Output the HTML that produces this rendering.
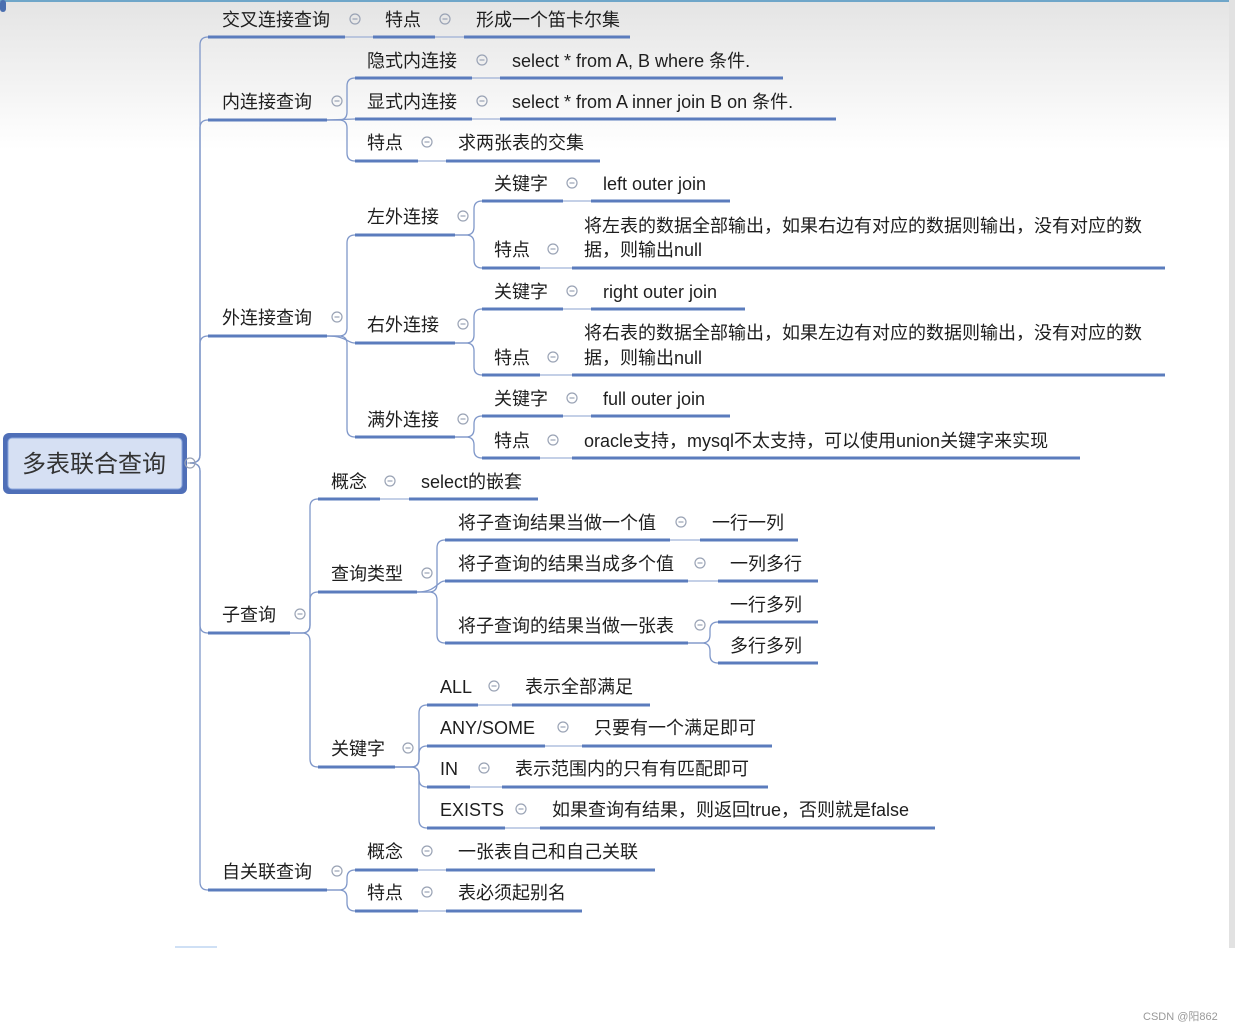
<!DOCTYPE html>
<html><head><meta charset="utf-8"><style>
html,body{margin:0;padding:0;width:1235px;height:1031px;overflow:hidden;background:#fff}
.bg{position:absolute;left:0;top:0;width:1235px;height:150px;background:linear-gradient(#e4e4e4,#fff)}
svg{position:absolute;left:0;top:0}
text{font-family:"Liberation Sans","Noto Sans CJK SC",sans-serif;font-size:18px;fill:#1e1e1e}
.u{fill:#5b7cbd}
.c{fill:none;stroke:#7f97c9;stroke-width:1.3}
.t{stroke:#8aa0cf;stroke-width:1}
</style></head><body>
<div class="bg"></div>
<svg width="1235" height="1031" viewBox="0 0 1235 1031">
<defs><g id="m"><circle r="5" fill="none" stroke="#9aa3b5" stroke-width="1.2"/><line x1="-2.5" x2="2.5" stroke="#9aa3b5" stroke-width="1.2"/></g></defs>
<rect x="0" y="0" width="1235" height="2" fill="#6fa6c9"/>
<rect x="0" y="0" width="6" height="12" rx="3" fill="#4a6fb0"/>
<rect x="1229" y="0" width="6" height="948" fill="#e2e2e2"/>
<rect x="175" y="946" width="42" height="2" fill="#cfe0f5"/>
<g class="c">
<path d="M190 463 Q200 463 200 455 L200 45 Q200 37 208 37"/>
<path d="M190 463 Q200 463 200 455 L200 128 Q200 120 208 120"/>
<path d="M190 463 Q200 463 200 455 L200 344 Q200 336 208 336"/>
<path d="M190 463 Q200 463 200 471 L200 625 Q200 633 208 633"/>
<path d="M190 463 Q200 463 200 471 L200 882 Q200 890 208 890"/>
<path d="M327 120 L339 120 Q347 120 347 112 L347 86 Q347 78 355 78"/>
<path d="M327 120 L355 119"/>
<path d="M327 120 L339 120 Q347 120 347 128 L347 153 Q347 161 355 161"/>
<path d="M327 336 L339 336 Q347 336 347 328 L347 243 Q347 235 355 235"/>
<path d="M327 336 C347 336 347 343 355 343"/>
<path d="M327 336 L339 336 Q347 336 347 344 L347 429 Q347 437 355 437"/>
<path d="M455 235 L466 235 Q474 235 474 227 L474 209 Q474 201 482 201"/>
<path d="M455 235 L466 235 Q474 235 474 243 L474 260 Q474 268 482 268"/>
<path d="M455 343 L466 343 Q474 343 474 335 L474 317 Q474 309 482 309"/>
<path d="M455 343 L466 343 Q474 343 474 351 L474 367 Q474 375 482 375"/>
<path d="M455 437 L466 437 Q474 437 474 429 L474 424 Q474 416 482 416"/>
<path d="M455 437 L466 437 Q474 437 474 445 L474 450 Q474 458 482 458"/>
<path d="M290 633 L302 633 Q310 633 310 625 L310 507 Q310 499 318 499"/>
<path d="M290 633 L302 633 Q310 633 310 625 L310 600 Q310 592 318 592"/>
<path d="M290 633 L302 633 Q310 633 310 641 L310 759 Q310 767 318 767"/>
<path d="M417 592 L429 592 Q437 592 437 584 L437 548 Q437 540 445 540"/>
<path d="M417 592 C437 592 437 581 445 581"/>
<path d="M417 592 L429 592 Q437 592 437 600 L437 635 Q437 643 445 643"/>
<path d="M688 643 L702 643 Q710 643 710 635 L710 630 Q710 622 718 622"/>
<path d="M688 643 L702 643 Q710 643 710 651 L710 655 Q710 663 718 663"/>
<path d="M395 767 L411 767 Q419 767 419 759 L419 713 Q419 705 427 705"/>
<path d="M395 767 L411 767 Q419 767 419 759 L419 754 Q419 746 427 746"/>
<path d="M395 767 L411 767 Q419 767 419 775 L419 779 Q419 787 427 787"/>
<path d="M395 767 L411 767 Q419 767 419 775 L419 820 Q419 828 427 828"/>
<path d="M327 890 L339 890 Q347 890 347 882 L347 878 Q347 870 355 870"/>
<path d="M327 890 L339 890 Q347 890 347 898 L347 903 Q347 911 355 911"/>
</g>
<g class="t">
<line x1="208" x2="630" y1="37" y2="37"/>
<line x1="355" x2="783" y1="78" y2="78"/>
<line x1="355" x2="836" y1="119" y2="119"/>
<line x1="355" x2="600" y1="161" y2="161"/>
<line x1="482" x2="730" y1="201" y2="201"/>
<line x1="482" x2="1165" y1="268" y2="268"/>
<line x1="482" x2="745" y1="309" y2="309"/>
<line x1="482" x2="1165" y1="375" y2="375"/>
<line x1="482" x2="730" y1="416" y2="416"/>
<line x1="482" x2="1080" y1="458" y2="458"/>
<line x1="318" x2="538" y1="499" y2="499"/>
<line x1="445" x2="798" y1="540" y2="540"/>
<line x1="445" x2="818" y1="581" y2="581"/>
<line x1="427" x2="650" y1="705" y2="705"/>
<line x1="427" x2="772" y1="746" y2="746"/>
<line x1="427" x2="768" y1="787" y2="787"/>
<line x1="427" x2="935" y1="828" y2="828"/>
<line x1="355" x2="655" y1="870" y2="870"/>
<line x1="355" x2="582" y1="911" y2="911"/>
</g>
<g class="u">
<rect x="208" y="35.5" width="137" height="3"/><rect x="373" y="35.5" width="62" height="3"/><rect x="464" y="35.5" width="166" height="3"/>
<rect x="208" y="118.5" width="119" height="3"/>
<rect x="355" y="76.5" width="117" height="3"/><rect x="500" y="76.5" width="283" height="3"/>
<rect x="355" y="117.5" width="117" height="3"/><rect x="500" y="117.5" width="336" height="3"/>
<rect x="355" y="159.5" width="63" height="3"/><rect x="446" y="159.5" width="154" height="3"/>
<rect x="208" y="334.5" width="119" height="3"/>
<rect x="355" y="233.5" width="100" height="3"/><rect x="355" y="341.5" width="100" height="3"/><rect x="355" y="435.5" width="100" height="3"/>
<rect x="482" y="199.5" width="81" height="3"/><rect x="591" y="199.5" width="139" height="3"/>
<rect x="482" y="266.5" width="58" height="3"/><rect x="572" y="266.5" width="593" height="3"/>
<rect x="482" y="307.5" width="81" height="3"/><rect x="591" y="307.5" width="154" height="3"/>
<rect x="482" y="373.5" width="58" height="3"/><rect x="572" y="373.5" width="593" height="3"/>
<rect x="482" y="414.5" width="81" height="3"/><rect x="591" y="414.5" width="139" height="3"/>
<rect x="482" y="456.5" width="58" height="3"/><rect x="572" y="456.5" width="508" height="3"/>
<rect x="208" y="631.5" width="82" height="3"/>
<rect x="318" y="497.5" width="62" height="3"/><rect x="409" y="497.5" width="129" height="3"/>
<rect x="318" y="590.5" width="99" height="3"/>
<rect x="445" y="538.5" width="225" height="3"/><rect x="700" y="538.5" width="98" height="3"/>
<rect x="445" y="579.5" width="243" height="3"/><rect x="718" y="579.5" width="100" height="3"/>
<rect x="445" y="641.5" width="243" height="3"/>
<rect x="718" y="620.5" width="100" height="3"/><rect x="718" y="661.5" width="100" height="3"/>
<rect x="318" y="765.5" width="77" height="3"/>
<rect x="427" y="703.5" width="51" height="3"/><rect x="512" y="703.5" width="138" height="3"/>
<rect x="427" y="744.5" width="118" height="3"/><rect x="582" y="744.5" width="190" height="3"/>
<rect x="427" y="785.5" width="43" height="3"/><rect x="502" y="785.5" width="266" height="3"/>
<rect x="427" y="826.5" width="78" height="3"/><rect x="540" y="826.5" width="395" height="3"/>
<rect x="208" y="888.5" width="119" height="3"/>
<rect x="355" y="868.5" width="63" height="3"/><rect x="446" y="868.5" width="209" height="3"/>
<rect x="355" y="909.5" width="63" height="3"/><rect x="446" y="909.5" width="136" height="3"/>
</g>
<rect x="3" y="433" width="184" height="61" rx="6" fill="#4f6fb8"/>
<rect x="8" y="438" width="174" height="51" rx="4" fill="#d6e0f3" stroke="#8aa6dc" stroke-width="1"/>
<text x="22" y="472" style="font-size:24px;fill:#333">多表联合查询</text>
<use href="#m" x="190" y="463"/>
<use href="#m" x="355" y="19"/><use href="#m" x="445" y="19"/>
<use href="#m" x="337" y="101"/><use href="#m" x="482" y="60"/><use href="#m" x="482" y="101"/><use href="#m" x="427" y="142"/>
<use href="#m" x="337" y="317"/><use href="#m" x="463" y="216"/><use href="#m" x="463" y="324"/><use href="#m" x="463" y="419"/>
<use href="#m" x="572" y="183"/><use href="#m" x="553" y="249"/><use href="#m" x="572" y="291"/><use href="#m" x="553" y="357"/><use href="#m" x="572" y="398"/><use href="#m" x="553" y="440"/>
<use href="#m" x="300" y="614"/><use href="#m" x="390" y="481"/><use href="#m" x="427" y="573"/>
<use href="#m" x="681" y="522"/><use href="#m" x="700" y="563"/><use href="#m" x="700" y="625"/>
<use href="#m" x="408" y="748"/><use href="#m" x="494" y="686"/><use href="#m" x="563" y="727"/><use href="#m" x="484" y="768"/><use href="#m" x="521" y="809"/>
<use href="#m" x="337" y="871"/><use href="#m" x="427" y="851"/><use href="#m" x="427" y="892"/>
<text x="222" y="26">交叉连接查询</text><text x="385" y="26">特点</text><text x="476" y="26">形成一个笛卡尔集</text>
<text x="222" y="108">内连接查询</text>
<text x="367" y="67">隐式内连接</text><text x="512" y="67">select * from A, B where 条件.</text>
<text x="367" y="108">显式内连接</text><text x="512" y="108">select * from A inner join B on 条件.</text>
<text x="367" y="149">特点</text><text x="458" y="149">求两张表的交集</text>
<text x="222" y="324">外连接查询</text>
<text x="367" y="223">左外连接</text><text x="367" y="331">右外连接</text><text x="367" y="426">满外连接</text>
<text x="494" y="190">关键字</text><text x="603" y="190">left outer join</text>
<text x="494" y="256">特点</text><text x="584" y="232">将左表的数据全部输出，如果右边有对应的数据则输出，没有对应的数</text><text x="584" y="256">据，则输出null</text>
<text x="494" y="298">关键字</text><text x="603" y="298">right outer join</text>
<text x="494" y="364">特点</text><text x="584" y="339">将右表的数据全部输出，如果左边有对应的数据则输出，没有对应的数</text><text x="584" y="364">据，则输出null</text>
<text x="494" y="405">关键字</text><text x="603" y="405">full outer join</text>
<text x="494" y="447">特点</text><text x="584" y="447">oracle支持，mysql不太支持，可以使用union关键字来实现</text>
<text x="222" y="621">子查询</text>
<text x="331" y="488">概念</text><text x="421" y="488">select的嵌套</text>
<text x="331" y="580">查询类型</text>
<text x="458" y="529">将子查询结果当做一个值</text><text x="712" y="529">一行一列</text>
<text x="458" y="570">将子查询的结果当成多个值</text><text x="730" y="570">一列多行</text>
<text x="458" y="632">将子查询的结果当做一张表</text><text x="730" y="611">一行多列</text><text x="730" y="652">多行多列</text>
<text x="331" y="755">关键字</text>
<text x="440" y="693">ALL</text><text x="525" y="693">表示全部满足</text>
<text x="440" y="734">ANY/SOME</text><text x="594" y="734">只要有一个满足即可</text>
<text x="440" y="775">IN</text><text x="515" y="775">表示范围内的只有有匹配即可</text>
<text x="440" y="816">EXISTS</text><text x="552" y="816">如果查询有结果，则返回true，否则就是false</text>
<text x="222" y="878">自关联查询</text>
<text x="367" y="858">概念</text><text x="458" y="858">一张表自己和自己关联</text>
<text x="367" y="899">特点</text><text x="458" y="899">表必须起别名</text>
<text x="1143" y="1020" style="font-size:11px;fill:#999">CSDN @阳862</text>
</svg>
</body></html>
